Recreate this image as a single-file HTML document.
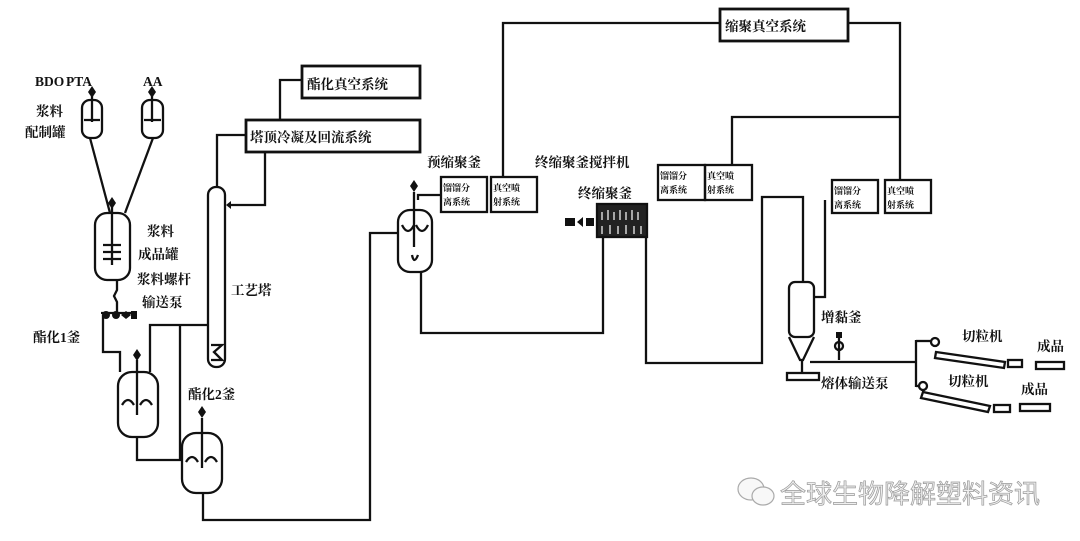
<!DOCTYPE html>
<html><head><meta charset="utf-8"><style>
html,body{margin:0;padding:0;background:#fff}
svg{display:block}
text{font-family:"Liberation Serif","Noto Serif CJK SC","Noto Sans CJK SC",serif;font-weight:bold;fill:#111}
.s{font-size:9px}
</style></head><body>
<svg width="1080" height="541" viewBox="0 0 1080 541" xmlns="http://www.w3.org/2000/svg">
<g fill="none" stroke="#111" stroke-width="2.3">
<rect x="720" y="9" width="128" height="32" stroke-width="2.8"/>
<polyline points="720,23 503,23 503,177"/>
<polyline points="848,23 900,23 900,180"/>
<polyline points="900,117 732,117 732,165"/>
<rect x="302" y="66" width="118" height="32" stroke-width="2.8"/>
<rect x="246" y="120" width="174" height="32" stroke-width="2.8"/>
<polyline points="303,80 280,80 280,120"/>
<polyline points="246,135 217,135 217,187"/>
<polyline points="265,152 265,205 228,205"/>
<rect x="208" y="187" width="17" height="180" rx="8"/>
<path d="M211 345 L222 345 L214 352 L222 360 L211 360"/>
<rect x="82" y="100" width="20" height="38" rx="8"/>
<rect x="142" y="100" width="21" height="38" rx="8"/>
<path d="M84 120h16M144 120h17M92 92v30M152 92v30"/>
<polyline points="90,138 110,213"/>
<polyline points="153,138 125,213"/>
<rect x="95" y="213" width="35" height="67" rx="12"/>
<path d="M112 205v60M103 245h18M103 252h18M103 259h18"/>
<polyline points="117,280 117,290 114,296 117,302 117,315"/>
<path d="M101 313h30"/>
<polyline points="103,315 103,352 120,352 120,372"/>
<rect x="118" y="372" width="40" height="65" rx="14"/>
<path d="M137 360v55M122 405q6-10 12 0M140 405q6-10 12 0"/>
<polyline points="208,325 150,325 150,372"/>
<polyline points="180,325 180,460"/>
<polyline points="137,437 137,460 182,460"/>
<rect x="182" y="433" width="40" height="60" rx="14"/>
<path d="M202 418v50M186 462q6-10 12 0M205 462q6-10 12 0"/>
<polyline points="203,493 203,520 370,520 370,233 398,233"/>
<rect x="398" y="210" width="34" height="62" rx="12"/>
<path d="M414 192v55M402 225q6 12 12 0M416 225q6 12 12 0M412 255q2 10 6 0"/>
<polyline points="418,200 418,195 441,195"/>
<rect x="441" y="177" width="46" height="35"/>
<rect x="491" y="177" width="46" height="35"/>
<polyline points="421,272 421,333 603,333 603,238"/>
<rect x="597" y="204" width="50" height="33" fill="#222"/>
<rect x="658" y="165" width="47" height="35"/>
<rect x="705" y="165" width="47" height="35"/>
<polyline points="646,237 646,363 762,363 762,197 803,197 803,282"/>
<rect x="789" y="282" width="25" height="55" rx="6"/>
<polyline points="789,337 800,360 803,360 814,337"/>
<polyline points="802,360 802,373"/>
<rect x="787" y="373" width="32" height="7"/>
<polyline points="814,297 825,297 825,200"/>
<rect x="832" y="180" width="46" height="33"/>
<rect x="885" y="180" width="46" height="33"/>
<polyline points="810,362 916,362"/>
<path d="M839 332v28"/>
<circle cx="839" cy="346" r="4"/>
<polyline points="916,340 916,387"/>
<polyline points="916,341 931,341"/>
<circle cx="935" cy="342" r="4"/>
<path d="M936 352 L1005 362 L1004 368 L935 358 Z"/>
<rect x="1008" y="360" width="14" height="7"/>
<rect x="1036" y="362" width="28" height="7"/>
<polyline points="916,386 920,386"/>
<circle cx="923" cy="386" r="4"/>
<path d="M923 392 L990 406 L988 412 L921 398 Z"/>
<rect x="994" y="405" width="16" height="7"/>
<rect x="1020" y="404" width="30" height="7"/>
</g>
<g fill="#111">
<path d="M88 92l4-6 4 6-4 6z M148 92l4-6 4 6-4 6z M108 203l4-6 4 6-4 6z"/>
<circle cx="106" cy="315" r="4"/><circle cx="116" cy="315" r="4"/><path d="M121 315l5-4 5 4-5 4z"/><rect x="131" y="311" width="6" height="8"/>
<path d="M133 355l4-6 4 6-4 6z M198 412l4-6 4 6-4 6z M410 186l4-6 4 6-4 6z"/>
<path d="M565 218h10v8h-10z M577 222l6-5 0 10z M586 218h8v8h-8z"/>
<path d="M836 338h6v-6h-6z"/>
<path d="M226 205l5-4v8z"/>
</g>
<g fill="#fff" stroke="#fff" stroke-width="1.2">
<path d="M602 212v8M608 210v10M614 212v8M620 210v10M626 212v8M632 210v10M638 212v8M602 226v8M610 225v9M618 226v8M626 225v9M634 226v8M641 226v8"/>
</g>
<g font-size="13.5">
<text x="35" y="86">BDO</text><text x="66" y="86">PTA</text><text x="143" y="86">AA</text>
<text x="36" y="116">浆料</text><text x="25" y="137">配制罐</text>
<text x="147" y="236">浆料</text><text x="138" y="259">成品罐</text>
<text x="137" y="284">浆料螺杆</text><text x="142" y="307">输送泵</text>
<text x="33" y="342">酯化1釜</text><text x="188" y="399">酯化2釜</text>
<text x="231" y="295">工艺塔</text>
<text x="307" y="89">酯化真空系统</text>
<text x="250" y="142">塔顶冷凝及回流系统</text>
<text x="725" y="31">缩聚真空系统</text>
<text x="427" y="167">预缩聚釜</text>
<text x="535" y="167">终缩聚釜搅拌机</text>
<text x="578" y="198">终缩聚釜</text>
<text x="821" y="322">增黏釜</text>
<text x="821" y="388">熔体输送泵</text>
<text x="962" y="341">切粒机</text><text x="1037" y="351">成品</text>
<text x="948" y="386">切粒机</text><text x="1021" y="394">成品</text>
</g>
<g class="s">
<text x="443" y="191">馏馏分</text><text x="443" y="205">离系统</text>
<text x="493" y="191">真空喷</text><text x="493" y="205">射系统</text>
<text x="660" y="179">馏馏分</text><text x="660" y="193">离系统</text>
<text x="707" y="179">真空喷</text><text x="707" y="193">射系统</text>
<text x="834" y="194">馏馏分</text><text x="834" y="208">离系统</text>
<text x="887" y="194">真空喷</text><text x="887" y="208">射系统</text>
</g>
<g fill="#f8f8f8" stroke="#aaa" stroke-width="1.2">
<ellipse cx="751" cy="489" rx="13" ry="11"/>
<ellipse cx="763" cy="496" rx="11" ry="9"/>
</g>
<text x="780" y="503" font-size="26" style="font-family:'Noto Sans CJK SC',sans-serif;font-weight:normal;fill:#f0f0f0;stroke:#999;stroke-width:0.7">全球生物降解塑料资讯</text>
</svg>
</body></html>
